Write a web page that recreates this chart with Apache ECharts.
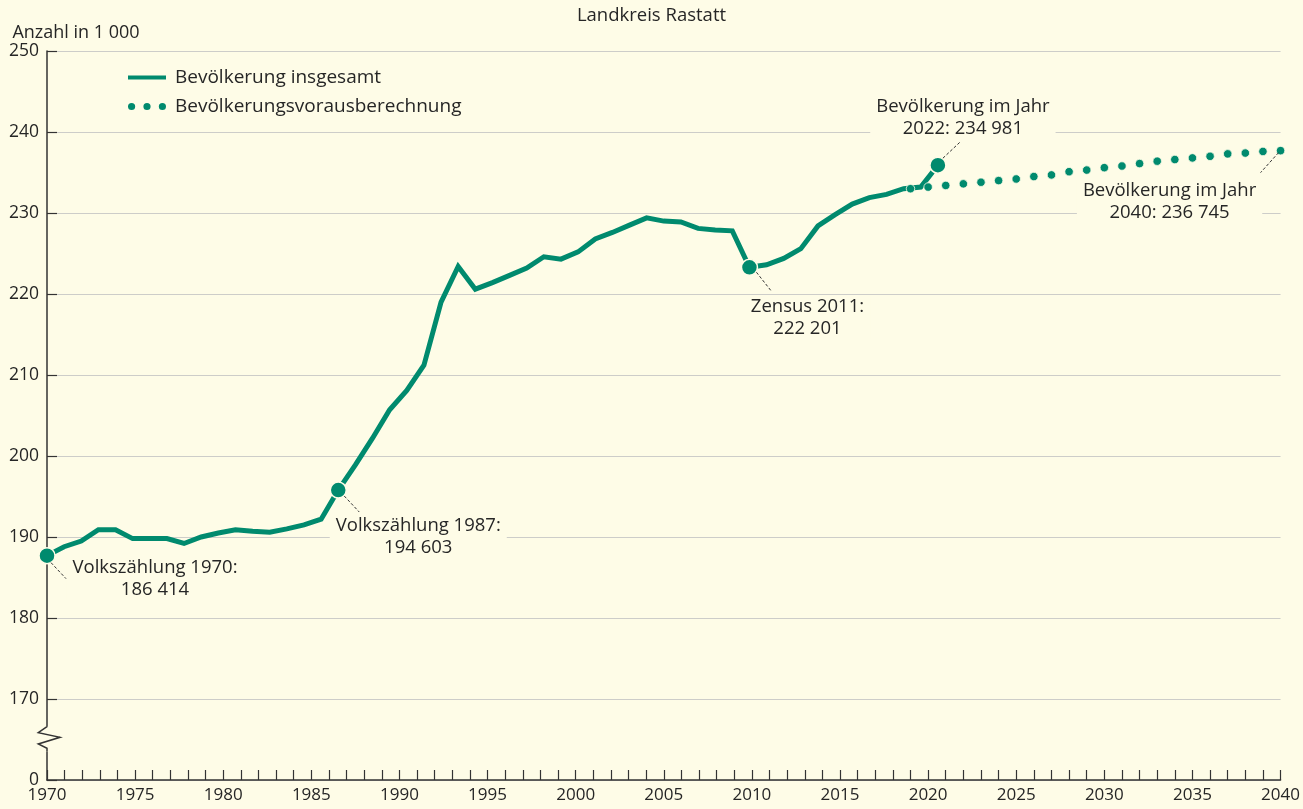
<!DOCTYPE html>
<html>
<head>
<meta charset="utf-8">
<script src="https://cdn.jsdelivr.net/npm/echarts@6/dist/echarts.min.js"></script>
<style>
  html, body { margin: 0; padding: 0; background: #fefce7; }
  #chart { width: 1303px; height: 809px; }
</style>
</head>
<body>
<div id="chart"></div>
<script>
// Bevölkerung Landkreis Rastatt (in 1 000)
var histYears = [1970, 1971, 1972, 1973, 1974, 1975, 1976, 1977, 1978, 1979,
  1980, 1981, 1982, 1983, 1984, 1985, 1986, 1987, 1988, 1989,
  1990, 1991, 1992, 1993, 1994, 1995, 1996, 1997, 1998, 1999,
  2000, 2001, 2002, 2003, 2004, 2005, 2006, 2007, 2008, 2009,
  2010, 2011, 2012, 2013, 2014, 2015, 2016, 2017, 2018, 2019,
  2020, 2021, 2022];
var histValues = [187.7, 188.8, 189.5, 190.9, 190.9, 189.8, 189.8, 189.8, 189.2, 190.0,
  190.5, 190.9, 190.7, 190.6, 191.0, 191.5, 192.2, 195.8, 198.9, 202.2,
  205.7, 208.1, 211.2, 219.0, 223.4, 220.6, 221.4, 222.3, 223.2, 224.6,
  224.3, 225.2, 226.8, 227.6, 228.5, 229.4, 229.0, 228.9, 228.1, 227.9,
  227.8, 223.3, 223.6, 224.4, 225.6, 228.4, 229.8, 231.1, 231.9, 232.3,
  233.0, 233.2, 235.9];
var markedYears = [1970, 1987, 2011, 2022];

var projYears = [2019, 2020, 2021, 2022, 2023, 2024, 2025, 2026, 2027, 2028,
  2029, 2030, 2031, 2032, 2033, 2034, 2035, 2036, 2037, 2038, 2039, 2040];
var projValues = [233.0, 233.2, 233.4, 233.6, 233.8, 234.0, 234.2, 234.5, 234.7, 235.1,
  235.3, 235.6, 235.8, 236.1, 236.4, 236.6, 236.8, 237.0, 237.3, 237.4, 237.6, 237.7];

var BG = '#fefce7';
var GREEN = '#008a6e';
var INK = '#262626';
var FONT = '"Open Sans", "DejaVu Sans", sans-serif';

/**Anmerkungen: Text + gestrichelte Hinweislinie, Abstand zum Punkt in px*/
var notes = [
  { src: 'hist', year: 1970, text: 'Volkszählung 1970:\n186 414', tx: 108, ty: 23, l: [4, 7, 19, 23] },
  { src: 'hist', year: 1987, text: 'Volkszählung 1987:\n194 603', tx: 80, ty: 47, l: [6, 6, 21, 22] },
  { src: 'hist', year: 2011, text: 'Zensus 2011:\n222 201', tx: 58, ty: 50, l: [7, 5, 22, 24] },
  { src: 'hist', year: 2022, text: 'Bevölkerung im Jahr\n2022: 234 981', tx: 25, ty: -47.5, l: [5, -7, 22, -23] },
  { src: 'proj', year: 2040, text: 'Bevölkerung im Jahr\n2040: 236 745', tx: -111, ty: 51, l: [-2, 2, -20, 22] }
];

var histData = histYears.map(function(y, i) {
  var item = { value: [y, histValues[i]] };
  if (markedYears.indexOf(y) >= 0) {
    item.symbolSize = 16;
    item.itemStyle = { color: GREEN, borderColor: BG, borderWidth: 1.5 };
  }
  return item;
});
var projData = projYears.map(function(y, i) { return [y, projValues[i]]; });

var chart = echarts.init(document.getElementById('chart'), null, { renderer: 'canvas' });

var option = {
  backgroundColor: BG,
  animation: false,
  textStyle: { fontFamily: FONT, color: INK },
  title: {
    text: 'Landkreis Rastatt',
    left: 'center', top: 1,
    padding: [5, 0, 5, 10],
    textStyle: { fontFamily: FONT, fontSize: 18.5, fontWeight: 'normal', color: INK }
  },
  legend: {
    orient: 'vertical', left: 123, top: 63,
    itemWidth: 38, itemHeight: 8, itemGap: 10,
    symbolKeepAspect: true,
    textStyle: { fontFamily: FONT, fontSize: 19, lineHeight: 18, color: INK, padding: [0, 0, 0, 4] },
    itemStyle: { borderWidth: 0 },
    data: [
      { name: 'Bevölkerung insgesamt', icon: 'path://M0,0H38V4H0Z' },
      { name: 'Bevölkerungsvorausberechnung',
        icon: 'path://M0,3.5a3.5,3.5 0 1,0 7,0a3.5,3.5 0 1,0 -7,0Z' +
              'M15,3.5a3.5,3.5 0 1,0 7,0a3.5,3.5 0 1,0 -7,0Z' +
              'M30,3.5a3.5,3.5 0 1,0 7,0a3.5,3.5 0 1,0 -7,0Z' }
    ]
  },
  grid: { left: 47, right: 22, top: 51, bottom: 29, containLabel: false },
  xAxis: [{
    type: 'value', min: 1970, max: 2040, interval: 5,
    axisLine: { lineStyle: { color: '#333', width: 1.5 } },
    axisTick: { inside: true, length: 10, lineStyle: { color: '#333', width: 1.2 } },
    minorTick: { show: true, splitNumber: 5, length: 10, lineStyle: { color: '#333', width: 1.2 } },
    splitLine: { show: false },
    axisLabel: {
      fontFamily: FONT, fontSize: 17, color: INK, margin: 7,
      formatter: function(v) { return String(v); }
    }
  }, {
    // Verlaufsdaten liegen im Original auf etwas engerem Jahresraster
    type: 'value', min: 1970, max: 2042, show: false
  }],
  yAxis: {
    type: 'value', min: 160, max: 250, interval: 10,
    name: 'Anzahl in 1 000', nameLocation: 'end', nameGap: 9,
    nameTextStyle: { fontFamily: FONT, fontSize: 18, color: INK, align: 'center', padding: [0, 0, 0, 58] },
    axisLine: { show: true, lineStyle: { color: '#333', width: 1.5 } },
    axisTick: { show: true, inside: true, length: 10, lineStyle: { color: '#333', width: 1.2 } },
    splitLine: { lineStyle: { color: '#cdcdc9', width: 1.2 } },
    axisLabel: {
      fontFamily: FONT, fontSize: 17.5, color: INK, margin: 8,
      formatter: function(v) { return v === 160 ? '0' : String(v); }
    }
  },
  series: [{
    name: 'Bevölkerung insgesamt',
    type: 'line', xAxisIndex: 1, yAxisIndex: 0,
    data: histData,
    symbol: 'circle', symbolSize: 0, showSymbol: true,
    itemStyle: { color: GREEN },
    lineStyle: { color: GREEN, width: 5, join: 'miter' },
    z: 3
  }, {
    name: 'Bevölkerungsvorausberechnung',
    type: 'line', xAxisIndex: 0, yAxisIndex: 0,
    data: projData,
    symbol: 'circle', symbolSize: 8.5, showSymbol: true,
    itemStyle: { color: GREEN, borderColor: BG, borderWidth: 0.8 },
    lineStyle: { width: 0, opacity: 0 },
    z: 4
  }]
};

chart.setOption(option);

// Anmerkungen und Achsenbruch
var graphics = [];
notes.forEach(function(n) {
  var p;
  if (n.src === 'hist') {
    p = chart.convertToPixel({ xAxisIndex: 1, yAxisIndex: 0 }, [n.year, histValues[histYears.indexOf(n.year)]]);
  } else {
    p = chart.convertToPixel({ xAxisIndex: 0, yAxisIndex: 0 }, [n.year, projValues[projYears.indexOf(n.year)]]);
  }
  graphics.push({
    type: 'text', z: 10,
    style: {
      text: n.text, x: p[0] + n.tx, y: p[1] + n.ty,
      align: 'center', verticalAlign: 'middle',
      font: '18.5px ' + FONT, fill: INK, lineHeight: 22,
      backgroundColor: BG, padding: [0, 6]
    }
  });
  graphics.push({
    type: 'line', z: 10,
    shape: { x1: p[0] + n.l[0], y1: p[1] + n.l[1], x2: p[0] + n.l[2], y2: p[1] + n.l[3] },
    style: { stroke: '#333', lineWidth: 1, lineDash: [3, 2] }
  });
});

var ax = chart.convertToPixel({ xAxisIndex: 0 }, 1970);
var yb = chart.convertToPixel({ yAxisIndex: 0 }, 165);
graphics.push({
  type: 'rect', z: 20,
  shape: { x: ax - 3, y: yb - 13, width: 6, height: 25 },
  style: { fill: BG }
});
graphics.push({
  type: 'polyline', z: 21,
  shape: { points: [[ax, yb - 13], [ax, yb - 12.8], [ax - 8.7, yb - 6.8], [ax + 13, yb - 2.2], [ax - 8.7, yb + 4.5], [ax, yb + 8.8], [ax, yb + 12]] },
  style: { stroke: '#333', lineWidth: 1.5, fill: null }
});

chart.setOption({ graphic: graphics });
</script>
</body>
</html>
